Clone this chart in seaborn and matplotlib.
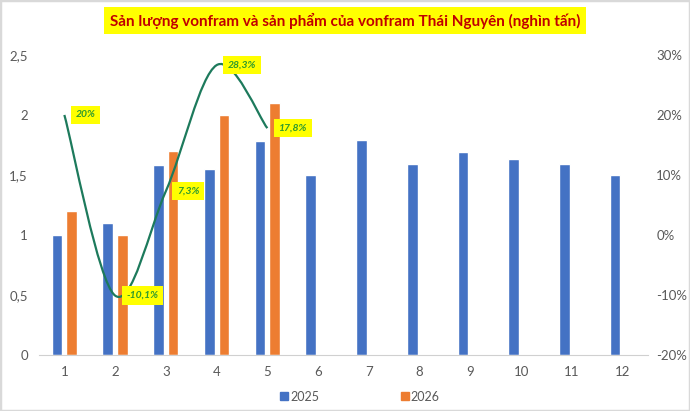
import numpy as np
import pandas as pd
import matplotlib
matplotlib.use("Agg")
import matplotlib.pyplot as plt
from matplotlib.path import Path
from matplotlib.patches import PathPatch, Rectangle
from matplotlib.lines import Line2D
import seaborn as sns

# =========================
# Datos
# =========================
thang = list(range(1, 13))
sl_2025 = [1.0, 1.1, 1.58, 1.55, 1.78, 1.5, 1.79, 1.59, 1.69, 1.63, 1.59, 1.5]
sl_2026 = [1.2, 1.0, 1.7, 2.0, 2.1]
tang_truong = [20.0, -10.1, 7.3, 28.3, 17.8]
nhan_tt = ["20%", "-10,1%", "7,3%", "28,3%", "17,8%"]

BLUE = "#4472C4"
ORANGE = "#ED7D31"
GREEN_LINE = "#1D7A5C"
GREEN_TXT = "#2E9A2E"
GREY = "#595959"

df = pd.concat([
    pd.DataFrame({"thang": thang, "gia_tri": sl_2025, "nam": "2025"}),
    pd.DataFrame({"thang": thang[:len(sl_2026)], "gia_tri": sl_2026, "nam": "2026"}),
])

sns.set_style("white")
plt.rcParams["font.family"] = ["Lato", "DejaVu Sans"]

fig = plt.figure(figsize=(6.9, 4.11), dpi=100)
ax = fig.add_axes([0.0565, 0.1363, 0.8825, 0.73])

sns.barplot(data=df, x="thang", y="gia_tri", hue="nam", order=thang,
            hue_order=["2025", "2026"], palette=[BLUE, ORANGE],
            width=0.58, gap=0.28, saturation=1, legend=False, ax=ax)

ax.set_xlim(-0.5, 11.5)
ax.set_ylim(0, 2.5)
ax.set_yticks([0, 0.5, 1, 1.5, 2, 2.5])
ax.set_yticklabels(["0", "0,5", "1", "1,5", "2", "2,5"])
ax.set_xlabel("")
ax.set_ylabel("")
for s in ["top", "right", "left"]:
    ax.spines[s].set_visible(False)
ax.spines["bottom"].set_color("#d0d0d0")
ax.tick_params(axis="both", length=0, colors=GREY, labelsize=9.5, pad=8)

# =========================
# Linea de crecimiento (eje derecho, suavizada tipo Excel)
# =========================
ax2 = ax.twinx()
ax2.set_ylim(-20, 30)
ax2.set_yticks([-20, -10, 0, 10, 20, 30])
ax2.set_yticklabels(["-20%", "-10%", "0%", "10%", "20%", "30%"])
for s in ["top", "right", "left", "bottom"]:
    ax2.spines[s].set_visible(False)
ax2.tick_params(axis="y", length=0, colors=GREY, labelsize=9.5, pad=6)

xs = np.arange(len(tang_truong), dtype=float)
ys = np.array(tang_truong)
verts = [(xs[0], ys[0])]
codes = [Path.MOVETO]
n = len(xs)
for i in range(n - 1):
    p0 = np.array([xs[max(i - 1, 0)], ys[max(i - 1, 0)]])
    p1 = np.array([xs[i], ys[i]])
    p2 = np.array([xs[i + 1], ys[i + 1]])
    p3 = np.array([xs[min(i + 2, n - 1)], ys[min(i + 2, n - 1)]])
    c1 = p1 + (p2 - p0) / 6
    c2 = p2 - (p3 - p1) / 6
    verts += [tuple(c1), tuple(c2), tuple(p2)]
    codes += [Path.CURVE4] * 3
ax2.add_patch(PathPatch(Path(verts, codes), facecolor="none",
                        edgecolor=GREEN_LINE, lw=1.6))

for x, y, lab in zip(xs, ys, nhan_tt):
    ax2.annotate(lab, (x, y), xytext=(8, 0), textcoords="offset points",
                 ha="left", va="center", fontsize=7.5, fontweight="bold",
                 fontstyle="italic", color=GREEN_TXT,
                 bbox=dict(boxstyle="square,pad=0.45", fc="#FFFF00", ec="none"))

# =========================
# Titulo y leyenda
# =========================
fig.text(0.5, 0.95, "Sản lượng vonfram và sản phẩm của vonfram Thái Nguyên (nghìn tấn)",
         ha="center", va="center", fontsize=11, fontweight="bold", color="#C00000",
         bbox=dict(boxstyle="square,pad=0.35", fc="#FFFF00", ec="none"))

handles = [Line2D([], [], marker="s", ls="none", color=BLUE, markersize=6),
           Line2D([], [], marker="s", ls="none", color=ORANGE, markersize=6)]
fig.legend(handles, ["2025", "2026"], loc="center", bbox_to_anchor=(0.522, 0.035),
           ncol=2, frameon=False, fontsize=9, handlelength=0.6,
           handletextpad=0.2, columnspacing=6.5, labelcolor=GREY)

fig.patches.append(Rectangle((0, 0), 1, 1, transform=fig.transFigure,
                             fill=False, ec="#d9d9d9", lw=2.5))

fig.savefig("out.png", dpi=100)
